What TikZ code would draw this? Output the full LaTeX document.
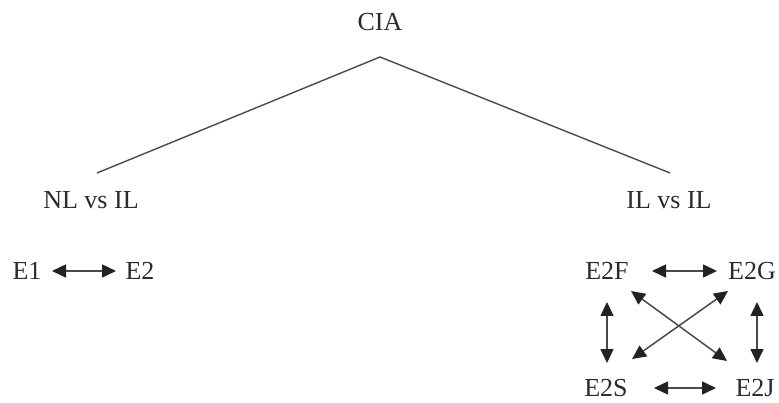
\documentclass[tikz,border=0pt]{standalone}
\usepackage{fontspec}
\setmainfont{Liberation Serif}
\usetikzlibrary{arrows.meta}
\definecolor{txt}{HTML}{2B2B2B}
\definecolor{ln}{HTML}{4A4A4A}
\definecolor{hd}{HTML}{222222}
\begin{document}
\begin{tikzpicture}[x=1pt,y=-1pt,
  lbl/.style={inner sep=0pt,text=txt,font=\fontsize{26}{28}\selectfont},
  tree/.style={draw=ln,line width=1.4pt},
  dbl/.style={draw=ln,line width=1.5pt,{Triangle[length=14pt,width=13pt,color=hd]}-{Triangle[length=14pt,width=13pt,color=hd]}}]
\useasboundingbox (0,0) rectangle (779,403);
\node[lbl] (cia) at (380,22) {CIA};
\node[lbl] (nl) at (91,200) {NL vs IL};
\node[lbl] (il) at (669,200) {IL vs IL};
\coordinate (apex) at (380,57);
\coordinate (lend) at (97,173);
\coordinate (rend) at (670,173);
\draw[tree] (lend) -- (apex) -- (rend);
\node[lbl] (e1) at (27,271) {E1};
\node[lbl] (e2) at (140,271) {E2};
\node[lbl] (e2f) at (607,271) {E2F};
\node[lbl] (e2g) at (752,271) {E2G};
\node[lbl] (e2s) at (606,388) {E2S};
\node[lbl] (e2j) at (755,388) {E2J};
\coordinate (a1) at (52,271); \coordinate (a2) at (116,271);
\draw[dbl] (a1) -- (a2);
\coordinate (fg1) at (652,271); \coordinate (fg2) at (717,271);
\draw[dbl] (fg1) -- (fg2);
\coordinate (sj1) at (654,388); \coordinate (sj2) at (716,388);
\draw[dbl] (sj1) -- (sj2);
\coordinate (fs1) at (607,302); \coordinate (fs2) at (607,363);
\draw[dbl] (fs1) -- (fs2);
\coordinate (gj1) at (757,302); \coordinate (gj2) at (757,363);
\draw[dbl] (gj1) -- (gj2);
\coordinate (fj1) at (631,291); \coordinate (fj2) at (727,361);
\draw[dbl] (fj1) -- (fj2);
\coordinate (gs1) at (728,291); \coordinate (gs2) at (632,359);
\draw[dbl] (gs1) -- (gs2);
\end{tikzpicture}
\end{document}
